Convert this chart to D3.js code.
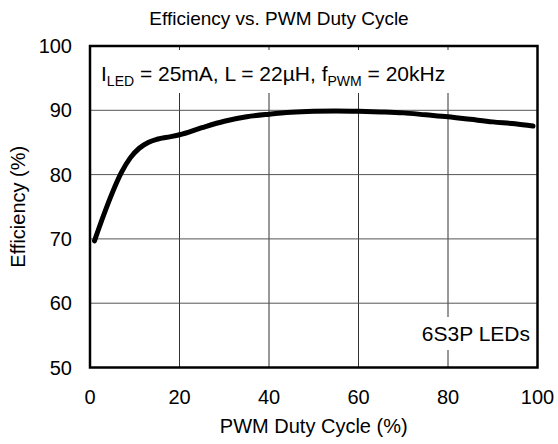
<!DOCTYPE html>
<html lang="en">
<head>
  <meta charset="UTF-8">
  <title>Efficiency vs. PWM Duty Cycle</title>
  <script src="https://d3js.org/d3.v7.min.js"></script>
  <style>
    body {
      margin: 0;
      background: #fff;
      font-family: "Liberation Sans", Arial, sans-serif;
    }
  </style>
</head>
<body>
<script>
const width = 558;
const height = 444;
const margin = {top: 46, right: 20.5, bottom: 76.5, left: 90};

// values
const dutyCycle = [1, 3, 5, 7, 9, 11, 13, 15, 18, 20, 25, 30, 35, 40, 45, 50, 55, 60, 65, 70, 75, 80, 85, 90, 95, 99];
const efficiency = [69.7, 73.6, 77.2, 80.3, 82.6, 84.1, 85.0, 85.5, 85.9, 86.2, 87.3, 88.3, 89.0, 89.4, 89.7, 89.85, 89.9, 89.85, 89.75, 89.6, 89.3, 89.0, 88.6, 88.2, 87.9, 87.55];
const xTicks = [0, 20, 40, 60, 80, 100];
const yTicks = [50, 60, 70, 80, 90, 100];

const points = dutyCycle.map((d, i) => ({x: d, y: efficiency[i]}));

const svg = d3.select("body").append("svg")
  .attr("width", width)
  .attr("height", height);

const x = d3.scaleLinear().domain([0, 100]).range([margin.left, width - margin.right]);
const y = d3.scaleLinear().domain([50, 100]).range([height - margin.bottom, margin.top]);

// grid
svg.append("g")
  .selectAll("line")
  .data(xTicks.slice(1, -1))
  .join("line")
  .attr("x1", d => x(d)).attr("x2", d => x(d))
  .attr("y1", y(100)).attr("y2", y(50))
  .attr("stroke", "#333")
  .attr("stroke-width", 1);

svg.append("g")
  .selectAll("line")
  .data(yTicks.slice(1, -1))
  .join("line")
  .attr("x1", x(0)).attr("x2", x(100))
  .attr("y1", d => y(d)).attr("y2", d => y(d))
  .attr("stroke", "#555")
  .attr("stroke-width", 1);

// annotation boxes (hide the grid behind the text)
const note = svg.append("g");
const noteBox = note.append("rect").attr("fill", "#fff");
const noteText = note.append("text")
  .attr("x", x(0) + 11)
  .attr("y", 81)
  .attr("font-size", 21)
  .attr("fill", "#000");
noteText.append("tspan").text("I");
noteText.append("tspan").attr("dy", 5).attr("font-size", 14).text("LED");
noteText.append("tspan").attr("dy", -5).text(" = 25mA, L = 22µH, f");
noteText.append("tspan").attr("dy", 5).attr("font-size", 14).text("PWM");
noteText.append("tspan").attr("dy", -5).text(" = 20kHz");
const nb = noteText.node().getBBox();
noteBox.attr("x", nb.x - 6).attr("y", 50)
  .attr("width", nb.width + 12).attr("height", 43);

const led = svg.append("g");
const ledBox = led.append("rect").attr("fill", "#fff");
const ledText = led.append("text")
  .attr("x", 530)
  .attr("y", 341)
  .attr("text-anchor", "end")
  .attr("font-size", 21)
  .text("6S3P LEDs");
const lb = ledText.node().getBBox();
ledBox.attr("x", lb.x - 6).attr("y", 317)
  .attr("width", lb.width + 12).attr("height", 33);

// frame
svg.append("rect")
  .attr("x", x(0)).attr("y", y(100))
  .attr("width", x(100) - x(0)).attr("height", y(50) - y(100))
  .attr("fill", "none")
  .attr("stroke", "#000")
  .attr("stroke-width", 2.5);

// curve
const line = d3.line()
  .x(d => x(d.x))
  .y(d => y(d.y))
  .curve(d3.curveMonotoneX);

svg.append("path")
  .datum(points)
  .attr("fill", "none")
  .attr("stroke", "#000")
  .attr("stroke-width", 5)
  .attr("stroke-linecap", "round")
  .attr("stroke-linejoin", "round")
  .attr("d", line);

// tick labels
svg.append("g")
  .selectAll("text")
  .data(xTicks)
  .join("text")
  .attr("x", d => x(d))
  .attr("y", 404)
  .attr("text-anchor", "middle")
  .attr("font-size", 20)
  .text(d => d);

svg.append("g")
  .selectAll("text")
  .data(yTicks)
  .join("text")
  .attr("x", 72)
  .attr("y", d => y(d) + 7)
  .attr("text-anchor", "end")
  .attr("font-size", 20)
  .text(d => d);

// titles
svg.append("text")
  .attr("x", 279)
  .attr("y", 25)
  .attr("text-anchor", "middle")
  .attr("font-size", 19)
  .text("Efficiency vs. PWM Duty Cycle");

svg.append("text")
  .attr("x", x(50))
  .attr("y", 433)
  .attr("text-anchor", "middle")
  .attr("font-size", 20)
  .text("PWM Duty Cycle (%)");

svg.append("text")
  .attr("transform", `translate(25, ${y(75)}) rotate(-90)`)
  .attr("text-anchor", "middle")
  .attr("font-size", 20)
  .text("Efficiency (%)");
</script>
</body>
</html>
